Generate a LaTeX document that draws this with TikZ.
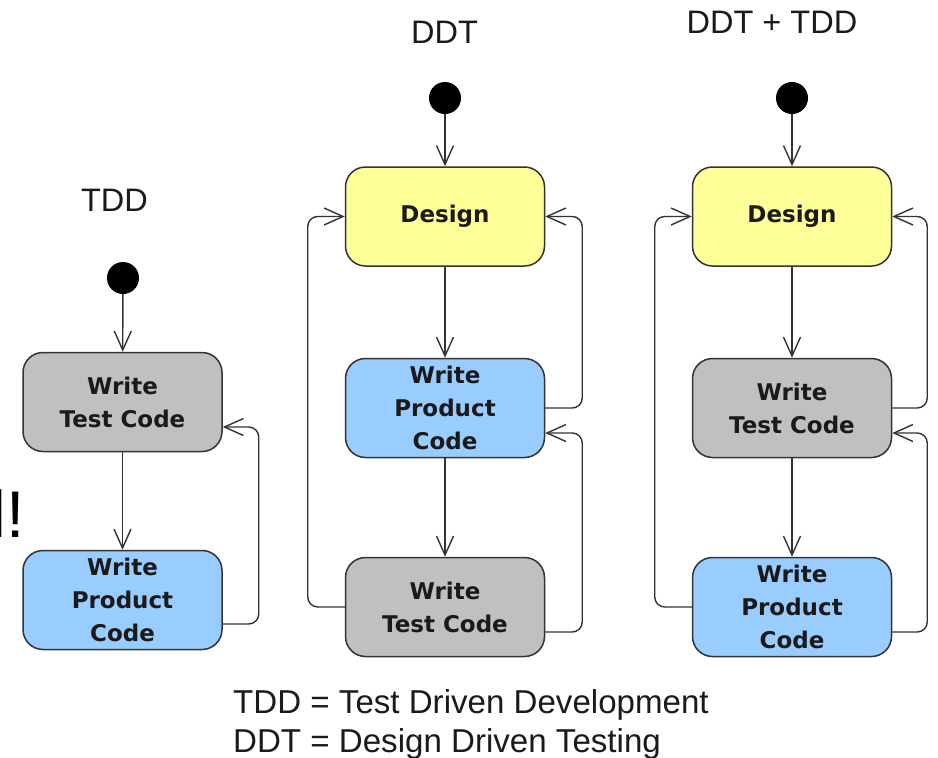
\documentclass[tikz,border=0pt]{standalone}
\usepackage{fontspec}
\setmainfont{Liberation Sans}
\newfontfamily\boxfont{DejaVu Sans}
\usetikzlibrary{arrows.meta,calc}
\definecolor{yel}{HTML}{FFFF99}
\definecolor{blu}{HTML}{99CCFF}
\definecolor{gry}{HTML}{C0C0C0}
\definecolor{ln}{HTML}{333333}
\definecolor{txt}{HTML}{1A1A1A}
\begin{document}
\begin{tikzpicture}[x=1pt,y=-1pt,
  state/.style={draw=ln, line width=1.5pt, rounded corners=20pt,
    minimum width=199pt, minimum height=99pt, inner sep=0pt, align=center,
    font=\boxfont\bfseries\fontsize{23}{33}\selectfont, text=txt},
  startdot/.style={circle, fill=black, minimum size=32pt, inner sep=0pt},
  flow/.style={draw=ln, line width=1.4pt, -{Straight Barb[length=19pt,width=17pt]}},
  loop/.style={flow, rounded corners=10pt},
  title/.style={anchor=base, inner sep=0pt, text=txt, font=\fontsize{32.5}{38}\selectfont},
  legend/.style={anchor=base west, inner sep=0pt, text=txt, font=\fontsize{33.1}{38}\selectfont}
]
\useasboundingbox (0,0) rectangle (938,758);

% partial text at left edge
\node[anchor=base east, inner sep=0pt, text=black, font=\fontsize{66}{70}\selectfont] (cut) at (24.8,537) {l!};

% ---------- TDD ----------
\node[title] (lab1) at (114.5,211) {TDD};
\node[startdot] (s1) at (123,278) {};
\node[state, fill=gry] (t1) at (122.5,402) {Write\\Test Code};
\node[state, fill=blu] (p1) at (122.5,600) {Write\\Product\\Code};
\draw[flow] (s1) -- (t1);
\draw[flow] (t1) -- (p1);
\draw[loop] ($(p1.east)+(0,24)$) -- ++(36,0) |- ($(t1.east)+(0,25)$);

% ---------- DDT ----------
\node[title] (lab2) at (444.5,43) {DDT};
\node[startdot] (s2) at (445,98) {};
\node[state, fill=yel] (d2) at (445,216.5) {Design};
\node[state, fill=blu] (p2) at (445,408) {Write\\Product\\Code};
\node[state, fill=gry] (t2) at (445,607) {Write\\Test Code};
\draw[flow] (s2) -- (d2);
\draw[flow] (d2) -- (p2);
\draw[flow] (p2) -- (t2);
\draw[loop] (t2.west) -- ++(-37,0) |- (d2.west);
\draw[loop] (p2.east) -- ++(37,0) |- (d2.east);
\draw[loop] ($(t2.east)+(0,25)$) -- ++(37,0) |- ($(p2.east)+(0,25)$);

% ---------- DDT + TDD ----------
\node[title] (lab3) at (772,33) {DDT + TDD};
\node[startdot] (s3) at (792,98) {};
\node[state, fill=yel] (d3) at (792,216.5) {Design};
\node[state, fill=gry] (t3) at (792,408) {Write\\Test Code};
\node[state, fill=blu] (p3) at (792,607) {Write\\Product\\Code};
\draw[flow] (s3) -- (d3);
\draw[flow] (d3) -- (t3);
\draw[flow] (t3) -- (p3);
\draw[loop] (p3.west) -- ++(-37,0) |- (d3.west);
\draw[loop] (t3.east) -- ++(35,0) |- (d3.east);
\draw[loop] ($(p3.east)+(0,25)$) -- ++(35,0) |- ($(t3.east)+(0,25)$);

% ---------- legend ----------
\node[legend] (leg1) at (233,713) {TDD = Test Driven Development};
\node[legend] (leg2) at (233,752) {DDT = Design Driven Testing};
\end{tikzpicture}
\end{document}
